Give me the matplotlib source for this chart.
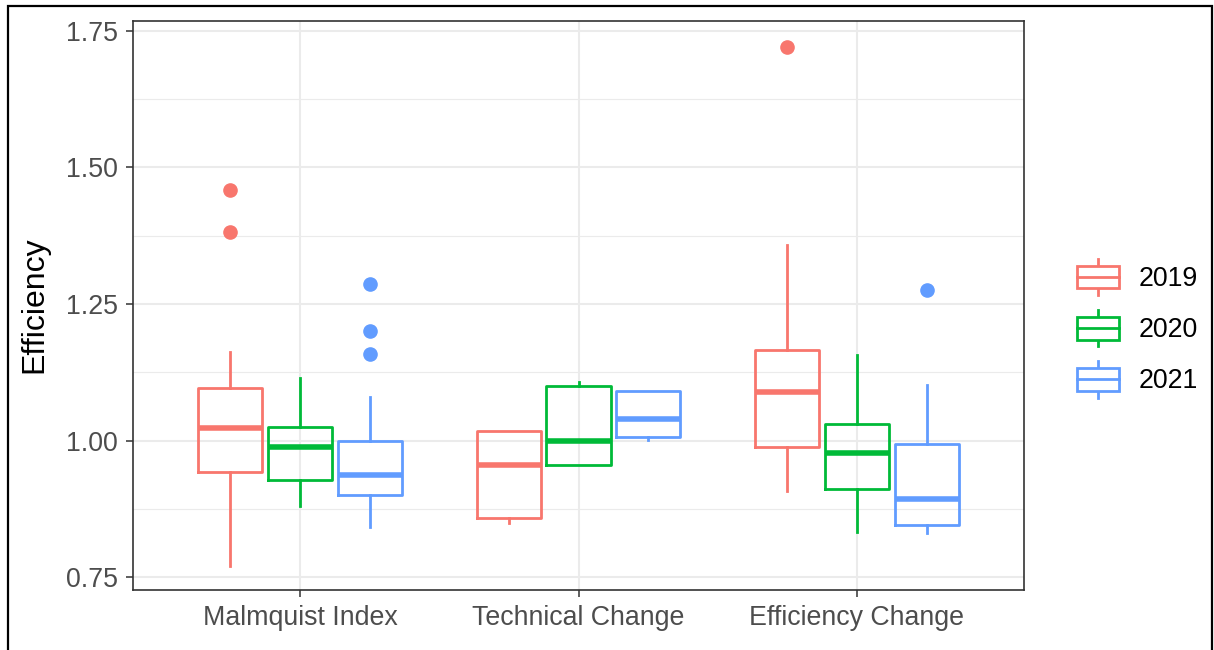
import numpy as np
import matplotlib
matplotlib.use('Agg')
import matplotlib.pyplot as plt
from matplotlib.patches import Rectangle
from matplotlib.lines import Line2D
from matplotlib.legend_handler import HandlerBase

plt.rcParams['font.family'] = ['Liberation Sans', 'DejaVu Sans']

categories = ['Malmquist Index', 'Technical Change', 'Efficiency Change']
years = ['2019', '2020', '2021']
colors = ['#F8766D', '#00BA38', '#619CFF']

# lower whisker, Q1, median, Q3, upper whisker for each category
box_2019 = [[0.771, 0.943, 1.023, 1.096, 1.163],
            [0.849, 0.858, 0.956, 1.017, 1.017],
            [0.907, 0.988, 1.088, 1.166, 1.358]]
box_2020 = [[0.880, 0.927, 0.988, 1.024, 1.114],
            [0.956, 0.956, 1.000, 1.099, 1.107],
            [0.832, 0.912, 0.977, 1.031, 1.156]]
box_2021 = [[0.842, 0.901, 0.936, 1.000, 1.079],
            [1.001, 1.007, 1.040, 1.090, 1.090],
            [0.830, 0.845, 0.892, 0.993, 1.101]]
outliers_2019 = [[1.458, 1.381], [], [1.720]]
outliers_2020 = [[], [], []]
outliers_2021 = [[1.286, 1.200, 1.159], [], [1.275]]

boxes = [box_2019, box_2020, box_2021]
outliers = [outliers_2019, outliers_2020, outliers_2021]

fig = plt.figure(figsize=(12.14, 6.5), dpi=100)
ax = fig.add_axes([133 / 1214, 60 / 650, 891 / 1214, 569 / 650])

for j in range(3):
    for i in range(3):
        lo, q1, med, q3, hi = boxes[j][i]
        st = dict(whislo=lo, q1=q1, med=med, q3=q3, whishi=hi, fliers=outliers[j][i])
        c = colors[j]
        ax.bxp([st], positions=[i + 1 + (j - 1) * 0.25], widths=0.23,
               showcaps=False, patch_artist=False, manage_ticks=False,
               boxprops=dict(color=c, lw=2.0),
               whiskerprops=dict(color=c, lw=2.0),
               medianprops=dict(color=c, lw=4.0, solid_capstyle='butt'),
               flierprops=dict(marker='o', markerfacecolor=c, markeredgecolor=c,
                               markersize=9.5),
               zorder=3)

grid_c = '#EBEBEB'
ax.set_xlim(0.4, 3.6)
ax.set_ylim(0.7262, 1.7683)
ax.set_yticks([0.75, 1.00, 1.25, 1.50, 1.75])
ax.set_yticks([0.875, 1.125, 1.375, 1.625], minor=True)
ax.set_xticks([1, 2, 3])
ax.set_xticklabels(categories)
ax.set_yticklabels(['0.75', '1.00', '1.25', '1.50', '1.75'])
ax.grid(which='major', color=grid_c, lw=1.5, zorder=0)
ax.grid(which='minor', axis='y', color=grid_c, lw=0.8, zorder=0)
ax.set_axisbelow(True)
ax.tick_params(axis='both', which='major', length=5, width=1.1, color='#333333',
               labelsize=19.3, labelcolor='#4D4D4D', pad=6)
ax.tick_params(axis='y', which='minor', length=0)
for s in ax.spines.values():
    s.set_color('#333333')
    s.set_linewidth(1.2)

fig.text(34 / 1214, 1 - 305 / 650, 'Efficiency', rotation=90, ha='center', va='center',
         fontsize=23, color='black')


class BoxKey(HandlerBase):
    def create_artists(self, legend, orig_handle, xdescent, ydescent, width, height,
                       fontsize, trans):
        c = orig_handle.get_color()
        x0 = -xdescent
        y0 = -ydescent
        bh = height * 0.62
        by = y0 + (height - bh) / 2
        cx = x0 + width / 2
        art = [
            Line2D([cx, cx], [y0, by], color=c, lw=2.0, transform=trans),
            Line2D([cx, cx], [by + bh, y0 + height], color=c, lw=2.0, transform=trans),
            Rectangle((x0, by), width, bh, facecolor='white', edgecolor=c, lw=2.0,
                      transform=trans),
            Line2D([x0, x0 + width], [by + bh / 2, by + bh / 2], color=c, lw=2.0,
                   transform=trans),
        ]
        return art


handles = [Line2D([], [], color=c) for c in colors]
fig.legend(handles, years, handler_map={Line2D: BoxKey()}, loc='upper left',
           bbox_to_anchor=(1077 / 1214, 1 - 259 / 650), frameon=False, borderpad=0,
           borderaxespad=0, fontsize=19.3, handlelength=1.55, handleheight=1.7,
           labelspacing=0.56, handletextpad=0.75)

fig.add_artist(Rectangle((8 / 1214, -0.1), 1204 / 1214, 1.1 - 5.5 / 650,
                         transform=fig.transFigure, fill=False, edgecolor='black',
                         lw=1.6, clip_on=False))

fig.savefig('out.png', dpi=100)
